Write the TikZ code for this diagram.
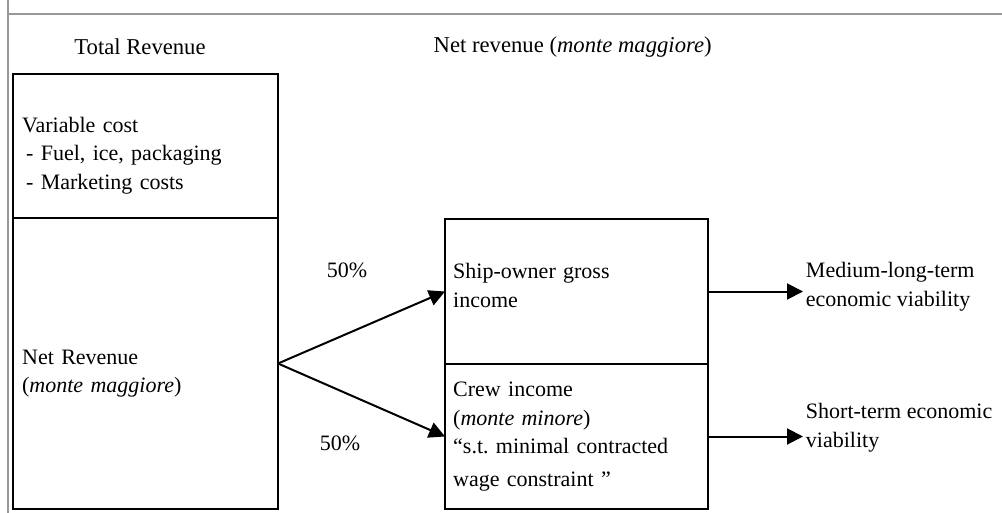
\documentclass[tikz,border=0pt]{standalone}
\usepackage{fontspec}
\setmainfont{Liberation Serif}
\frenchspacing
\usetikzlibrary{arrows.meta, positioning}

\begin{document}
\begin{tikzpicture} [
    x=0.75pt, y=-0.75pt,
    every node/.style={font=\fontsize{16.5}{21.5}\selectfont},
    header/.style={font=\fontsize{17}{21}\selectfont},
    box/.style={rectangle, draw, line width=1.6pt, outer sep=0pt, inner xsep=6pt, text width=185pt, align=left},
    plain/.style={align=left, inner sep=2pt},
    line/.style={draw, -{Triangle[length=12pt, width=12pt]}, line width=1.5pt},
    frame/.style={draw=black!40, line width=1.5pt}
]
    \useasboundingbox (0,0) rectangle (1002,513);

    % Frame
    \path [frame] (8,0) -- (8,513);
    \path [frame, line width=0.9pt] (8,14) -- (1002,14);

    % Headers
    \node[header] (total) at (140,47) {Total Revenue};
    \node[header, anchor=west] (nethead) at (429,47) {Net revenue (\textit{monte maggiore})};

    % Nodes
    \node[box, anchor=north west, minimum width=198.75pt, minimum height=108pt] (varcost) at (13,74)
        {\rule{0pt}{26pt}Variable cost\\\hspace*{3pt}- Fuel, ice, packaging\\\hspace*{3pt}- Marketing costs};
    \node[box, below=0pt of varcost, minimum width=198.75pt, minimum height=218.25pt] (netrev)
        {\rule{0pt}{26pt}Net Revenue\\(\textit{monte maggiore})};

    \node[box, anchor=north west, minimum width=197.25pt, minimum height=108.75pt] (owner) at (445,219)
        {Ship-owner gross\\income\rule[-9pt]{0pt}{9pt}};
    \node[box, below=0pt of owner, minimum width=197.25pt, minimum height=108.75pt] (crew)
        {Crew income\\(\textit{monte minore})\\“s.t. minimal contracted\\[3pt]wage constraint ”};

    \node[plain, anchor=west] (midlong) at (803,287) {Medium-long-term\\economic viability};
    \node[plain, anchor=west] (shortterm) at (803,428) {Short-term economic\\viability};

    \node (pcttop) at (347,270) {50\%};
    \node (pctbot) at (340,443) {50\%};

    % Arrows
    \path [line] (netrev.east) -- (owner.west);
    \path [line] (netrev.east) -- (crew.west);
    \path [line] (owner.east) -- (owner.east -| midlong.west);
    \path [line] (crew.east) -- (crew.east -| shortterm.west);

\end{tikzpicture}
\end{document}
